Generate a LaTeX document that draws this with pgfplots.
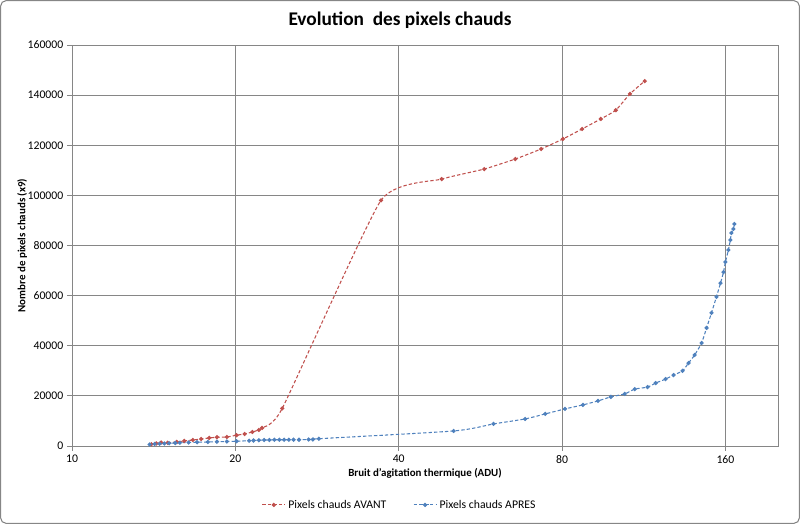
\documentclass[border=0pt]{standalone}
\usepackage{fontspec}
\setmainfont{Carlito}
\usepackage{pgfplots}
\pgfplotsset{compat=1.18}
\definecolor{gridc}{RGB}{134,134,134}
\definecolor{redc}{RGB}{192,80,77}
\definecolor{bluec}{RGB}{79,129,189}
\begin{document}
\begin{tikzpicture}
\useasboundingbox (0,0) rectangle (600pt,393pt);
\draw[color=gridc, rounded corners=4pt, line width=0.8pt] (0.5pt,0.5pt) rectangle (599.5pt,392.5pt);
\begin{axis}[
  at={(54pt,58.5pt)}, anchor=south west,
  scale only axis, width=529.5pt, height=300.75pt,
  xmode=log, log basis x=2,
  xmin=10, xmax=200, ymin=0, ymax=160000,
  xtick={10,20,40,80,160}, xticklabels={10,20,40,80,160},
  xminorticks=false, minor x tick num=0,
  ytick={0,20000,40000,60000,80000,100000,120000,140000,160000},
  yticklabels={0,20000,40000,60000,80000,100000,120000,140000,160000},
  scaled y ticks=false,
  grid=major, grid style={color=gridc, line width=0.6pt},
  axis line style={color=gridc, line width=0.6pt},
  tick style={color=gridc, line width=0.6pt},
  tick align=outside, major tick length=3.5pt,
  xtick pos=bottom, ytick pos=left,
  tick label style={font=\fontsize{8.8}{10}\selectfont},
  yticklabel style={xshift=0.5pt},
  xlabel={Bruit d'agitation thermique (ADU)},
  ylabel={Nombre de pixels chauds (x9)},
  label style={font=\fontsize{8.2}{10}\selectfont\bfseries},
  xlabel style={yshift=3pt},
  ylabel style={yshift=-6.5pt},
  title={Evolution\ \ des pixels chauds},
  title style={font=\fontsize{14.5}{17}\selectfont\bfseries, at={(0.4646,1)}, anchor=center, yshift=12.5pt},
  legend style={at={(0.4646,-0.147)}, anchor=center, draw=none, legend columns=2,
    font=\fontsize{8.8}{10}\selectfont,
    /tikz/every even column/.append style={column sep=18pt}},
]
\addplot[redc, line width=0.8pt, smooth, tension=0.3, dash pattern=on 2.5pt off 1.6pt,
  mark=*, mark size=1.15pt, mark options={solid}] coordinates {
(14.0,700) (14.3,1000) (14.6,1400) (15.0,1300) (15.6,1600) (16.1,2000) (16.7,2400)
(17.3,2800) (17.9,3200) (18.5,3500) (19.3,3600) (20.1,4300) (20.8,4800) (21.5,5600)
(22.1,6400) (22.4,7200)
(24.4,15000) (37.1,98000) (48.0,106500) (57.5,110500) (65.6,114500) (73.2,118500)
(80.3,122500) (87.1,126500) (94.3,130500) (100.5,134000) (106.7,140500) (113.6,145600)
};
\addlegendentry{Pixels chauds AVANT}
\addplot[bluec, line width=0.8pt, smooth, tension=0.4, dash pattern=on 2.5pt off 1.6pt,
  mark=*, mark size=1.15pt, mark options={solid}] coordinates {
(13.9,600) (14.2,800) (14.5,900) (14.8,1000) (15.1,1100) (15.5,1200) (15.8,1300)
(16.4,1400) (17.0,1500) (17.8,1600) (18.5,1700) (19.3,1800) (20.1,1900) (21.2,2100)
(21.6,2200) (22.1,2300) (22.6,2400) (23.1,2400) (23.6,2500) (24.1,2500) (24.6,2500)
(25.1,2500) (25.6,2500) (26.2,2500) (27.3,2600) (27.8,2600) (28.5,2900)
(50.5,6000) (59.8,8800) (68.4,10800) (74.5,12800) (81.0,14800) (87.4,16400)
(93.2,18000) (98.4,19600) (104.4,20800) (108.9,22700) (115.0,23500) (119.0,25100)
(124.1,26700) (128.4,28300) (133.4,30000) (136.8,33100) (140.4,36300) (144.6,41100)
(147.7,47100) (150.8,53100) (154.0,59500) (156.7,65000) (158.7,69400) (160.0,73400)
(162.0,78200) (163.4,82200) (164.1,85000) (165.5,86600) (166.2,88600)
};
\addlegendentry{Pixels chauds APRES}
\end{axis}
\end{tikzpicture}
\end{document}
